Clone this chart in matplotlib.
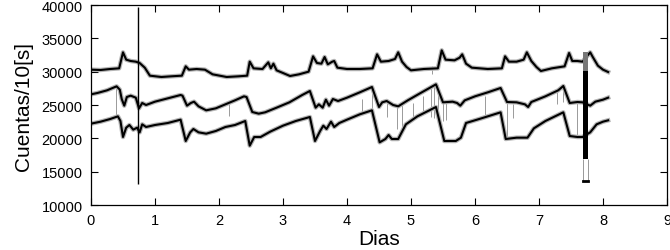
import matplotlib
matplotlib.use("Agg")
import matplotlib.pyplot as plt

plt.rcParams['font.family'] = ['Liberation Sans', 'DejaVu Sans']

# ---- data (days, counts per 10 s) ----
top_days = [0.00, 0.15, 0.30, 0.44, 0.50, 0.55, 0.62, 0.70, 0.76, 0.84, 0.92, 1.10, 1.25, 1.42, 1.48,
            1.53, 1.65, 1.78, 1.90, 2.12, 2.30, 2.44, 2.48, 2.54, 2.68, 2.77, 2.81, 2.85, 2.90, 3.00,
            3.11, 3.25, 3.40, 3.47, 3.53, 3.60, 3.65, 3.70, 3.77, 3.80, 3.85, 4.00, 4.20, 4.40, 4.47,
            4.53, 4.65, 4.75, 4.80, 4.86, 4.93, 5.00, 5.20, 5.42, 5.48, 5.54, 5.68, 5.76, 5.80, 5.86,
            5.95, 6.20, 6.42, 6.47, 6.53, 6.65, 6.76, 6.81, 6.88, 6.96, 7.03, 7.20, 7.40, 7.47, 7.52,
            7.60, 7.68, 7.80, 7.84, 7.92, 8.00, 8.08]
top_vals = [30300, 30250, 30400, 30500, 32900, 31800, 31600, 31500, 31300, 30600, 29400, 29200, 29300,
            29400, 30800, 30300, 30400, 30300, 29600, 29200, 29300, 29400, 31500, 30500, 30400, 31400,
            30500, 31200, 30200, 29800, 29350, 29600, 30000, 32300, 31300, 31200, 32200, 31100, 31500,
            31600, 30600, 30400, 30400, 30500, 32600, 31500, 31600, 31900, 32900, 31500, 30700, 30200,
            30400, 30500, 33200, 31800, 31700, 32100, 32600, 31200, 30600, 30400, 30500, 32300, 31500,
            31500, 31800, 32900, 31600, 30700, 30100, 30500, 30800, 32800, 31600, 31600, 31500, 32900,
            32200, 30900, 30300, 29950]

mid_days = [0.00, 0.10, 0.25, 0.40, 0.45, 0.48, 0.52, 0.56, 0.62, 0.70, 0.75, 0.80, 0.86, 1.00, 1.20,
            1.40, 1.43, 1.50, 1.56, 1.61, 1.68, 1.80, 1.95, 2.10, 2.25, 2.39, 2.43, 2.52, 2.62, 2.72,
            2.90, 3.10, 3.30, 3.42, 3.51, 3.56, 3.62, 3.67, 3.72, 3.78, 3.86, 4.00, 4.20, 4.39, 4.50,
            4.55, 4.62, 4.72, 4.80, 4.95, 5.15, 5.39, 5.50, 5.65, 5.72, 5.77, 5.84, 6.00, 6.20, 6.40,
            6.50, 6.65, 6.78, 6.83, 6.88, 7.10, 7.30, 7.38, 7.48, 7.60, 7.68, 7.80, 7.88, 8.00, 8.08]
mid_vals = [26600, 26800, 27200, 27800, 27300, 25900, 24900, 26200, 26400, 26100, 24500, 25300, 25000,
            25500, 26000, 26500, 26400, 24900, 25300, 25500, 24800, 24200, 24500, 25100, 25700, 26300,
            26200, 23950, 23700, 23900, 24600, 25400, 26500, 27100, 24600, 25100, 24600, 25800, 24900,
            25900, 25600, 26100, 26900, 27700, 24700, 25400, 25600, 25000, 24800, 25700, 26800, 28100,
            25400, 25500, 25300, 24900, 25700, 26300, 26900, 27550, 25450, 25400, 25100, 24700, 25450,
            26300, 27200, 27850, 25300, 25450, 25400, 24900, 25500, 25800, 26100]

bot_days = [0.00, 0.15, 0.30, 0.42, 0.46, 0.50, 0.55, 0.60, 0.66, 0.72, 0.76, 0.80, 0.86, 1.00, 1.20,
            1.40, 1.48, 1.55, 1.60, 1.68, 1.80, 1.95, 2.10, 2.25, 2.41, 2.48, 2.55, 2.65, 2.80, 3.00,
            3.20, 3.42, 3.50, 3.58, 3.63, 3.68, 3.75, 3.80, 3.88, 4.00, 4.20, 4.39, 4.51, 4.60, 4.65,
            4.70, 4.80, 4.92, 5.10, 5.39, 5.52, 5.70, 5.78, 5.86, 6.10, 6.40, 6.48, 6.65, 6.82, 6.92,
            7.10, 7.38, 7.48, 7.60, 7.68, 7.80, 7.90, 8.00, 8.08]
bot_vals = [22200, 22500, 22900, 23300, 22600, 20200, 21600, 22000, 21300, 21600, 20900, 22100, 21700,
            22000, 22300, 22800, 19600, 20900, 21400, 20900, 20700, 21100, 21700, 22000, 22600, 18900,
            20200, 20200, 21000, 21900, 22600, 23200, 19600, 21100, 21900, 21400, 22500, 21700, 22300,
            22800, 23600, 24200, 19400, 19900, 20500, 19900, 19900, 22100, 23300, 24700, 19600, 19600,
            20100, 22300, 23000, 23900, 19900, 20100, 20100, 21500, 22600, 23900, 20350, 20200, 20200,
            20900, 22100, 22500, 22700]

# isolated glitches (day, low, high)
spike_days = [0.39, 2.16, 4.23, 4.39, 4.62, 4.78, 4.86, 5.03, 5.19, 5.31, 5.36, 5.42, 5.50, 5.55,
              6.16, 6.50, 6.60, 7.28, 7.38, 7.59, 5.33]
spike_low = [23300, 23300, 23650, 24300, 23200, 21400, 21700, 22900, 23600, 23200, 23000, 23300, 22600,
             22800, 23200, 20100, 23100, 25100, 25500, 20400, 29600]
spike_high = [27700, 25600, 25900, 27700, 25600, 24850, 25000, 25300, 26300, 27800, 28000, 28000, 25400,
              25300, 26300, 25400, 25200, 27000, 27800, 25300, 30800]

big_spike_day = 0.73
big_spike_low, big_spike_high = 13200, 39700

band_days = [7.69, 7.77]
band_low, band_high, band_top, band_min = 16900, 30100, 32900, 13600

x_ticks = [0, 1, 2, 3, 4, 5, 6, 7, 8, 9]
y_ticks = [10000, 15000, 20000, 25000, 30000, 35000, 40000]

# ---- figure ----
fig = plt.figure(figsize=(6.70, 2.51), dpi=100)
ax = fig.add_axes([91/670, 1-206/251, 576/670, 200/251])

for d, v in [(top_days, top_vals), (mid_days, mid_vals), (bot_days, bot_vals)]:
    ax.plot(d, v, color='#b4b4b4', lw=3.2, solid_joinstyle='round', zorder=2)
    ax.plot(d, v, color='black', lw=1.5, solid_joinstyle='round', zorder=3)

ax.vlines(spike_days, spike_low, spike_high, color='#8a8a8a', lw=0.6, zorder=1)
ax.vlines([big_spike_day], [big_spike_low], [big_spike_high], color='black', lw=1.0, zorder=4)

ax.fill_between(band_days, [band_high]*2, [band_top]*2, color='#777777', lw=0, zorder=4)
ax.fill_between(band_days, [band_low]*2, [band_high]*2, color='black', lw=0, zorder=5)
ax.vlines(band_days, band_min, band_low, color='#888888', lw=0.6, zorder=4)
ax.plot(band_days, [band_min, band_min], color='black', lw=2.0, zorder=5)

ax.set_xlim(0, 9)
ax.set_ylim(10000, 40000)
ax.set_xticks(x_ticks)
ax.set_yticks(y_ticks)
ax.tick_params(direction='in', top=True, right=True, length=5, width=0.8,
               labelsize=10.5, pad=6)
for s in ax.spines.values():
    s.set_linewidth(0.9)
ax.set_xlabel('Dias', fontsize=15, labelpad=1)
ax.set_ylabel('Cuentas/10[s]', fontsize=15, labelpad=6)

fig.savefig('out.png', dpi=100)
